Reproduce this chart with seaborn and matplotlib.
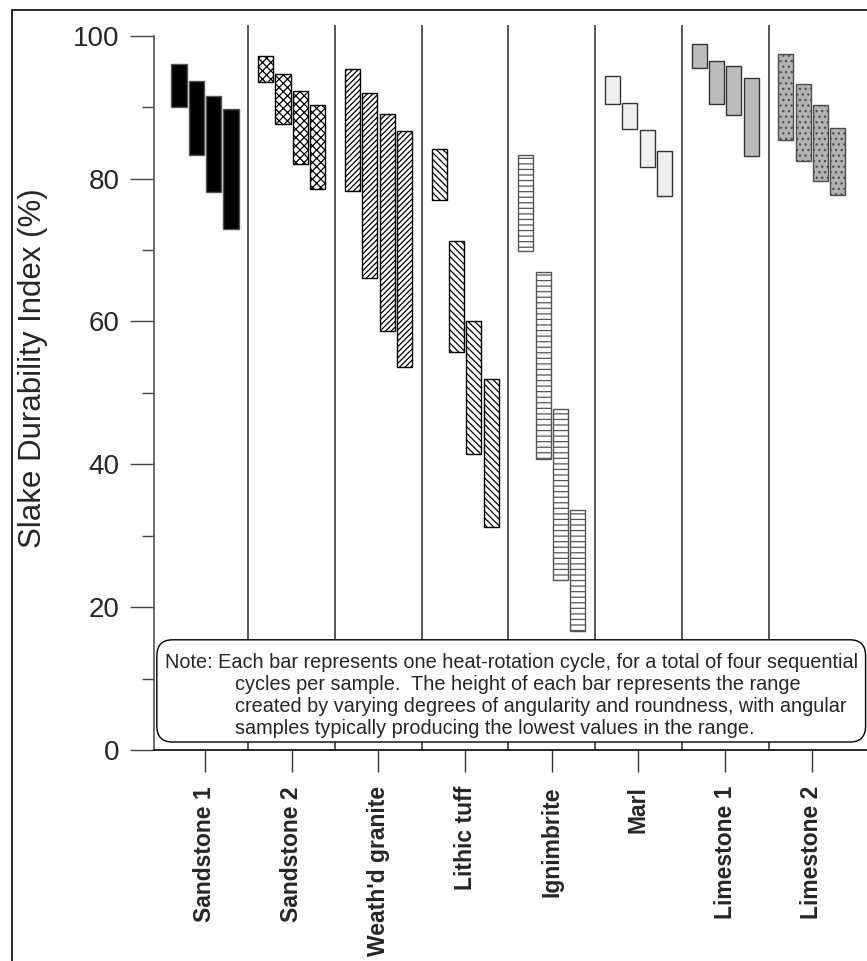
import pandas as pd
import matplotlib
matplotlib.use("Agg")
import matplotlib.pyplot as plt
import seaborn as sns
from matplotlib.patches import FancyBboxPatch, Rectangle
from matplotlib.ticker import MultipleLocator

# ---- data ----
rocks = ["Sandstone 1", "Sandstone 2", "Weath'd granite", "Lithic tuff",
         "Ignimbrite", "Marl", "Limestone 1", "Limestone 2"]
cycles = ["Cycle 1", "Cycle 2", "Cycle 3", "Cycle 4"]

cycle1_top = [96.1, 97.1, 95.4, 84.2, 83.3, 94.4, 98.9, 97.4]
cycle1_low = [90.0, 93.5, 78.2, 77.0, 69.8, 90.4, 95.5, 85.4]
cycle2_top = [93.7, 94.7, 92.0, 71.2, 66.9, 90.6, 96.4, 93.2]
cycle2_low = [83.3, 87.7, 66.1, 55.7, 40.8, 87.0, 90.5, 82.4]
cycle3_top = [91.6, 92.2, 89.0, 60.1, 47.8, 86.8, 95.8, 90.3]
cycle3_low = [78.1, 82.1, 58.6, 41.4, 23.8, 81.6, 88.9, 79.7]
cycle4_top = [89.8, 90.3, 86.7, 52.0, 33.6, 83.8, 94.1, 87.1]
cycle4_low = [73.0, 78.5, 53.6, 31.2, 16.7, 77.5, 83.1, 77.7]

tops = [cycle1_top, cycle2_top, cycle3_top, cycle4_top]
lows = [cycle1_low, cycle2_low, cycle3_low, cycle4_low]

note_lines = [
    "Note: Each bar represents one heat-rotation cycle, for a total of four sequential",
    "cycles per sample.  The height of each bar represents the range",
    "created by varying degrees of angularity and roundness, with angular",
    "samples typically producing the lowest values in the range.",
]

# long-form table for seaborn
rows = []
for c, top, low in zip(cycles, tops, lows):
    for r, t, l in zip(rocks, top, low):
        rows.append({"rock": r, "cycle": c, "range": t - l, "low": l})
df = pd.DataFrame(rows)

# fill style per rock type
styles = {
    "Sandstone 1": dict(fc="black", hatch="", ec="#555555"),
    "Sandstone 2": dict(fc="white", hatch="xxxx", ec="black"),
    "Weath'd granite": dict(fc="white", hatch="//////", ec="black"),
    "Lithic tuff": dict(fc="white", hatch="\\\\\\\\\\", ec="black"),
    "Ignimbrite": dict(fc="white", hatch="---", ec="#555555"),
    "Marl": dict(fc="#efefef", hatch="", ec="#333333"),
    "Limestone 1": dict(fc="#bcbcbc", hatch="", ec="#333333"),
    "Limestone 2": dict(fc="#b2b2b2", hatch="...", ec="#4d4d4d"),
}

sns.set_style("white")
plt.rcParams["font.family"] = ["Liberation Sans", "DejaVu Sans"]
plt.rcParams["hatch.linewidth"] = 0.9

fig = plt.figure(figsize=(8.67, 9.61), dpi=100)
ax = fig.add_axes([154 / 867, 211 / 961, 713 / 867, 725 / 961])

sns.barplot(data=df, x="rock", y="range", hue="cycle", order=rocks,
            hue_order=cycles, dodge=True, gap=0.13, errorbar=None,
            palette=["black"] * 4, legend=False, ax=ax, zorder=3)

# float each bar up to its low value, then apply the rock's fill
for h, cont in enumerate(ax.containers):
    for i, bar in enumerate(cont):
        bar.set_y(lows[h][i])
        st = styles[rocks[i]]
        bar.set_facecolor(st["fc"])
        bar.set_edgecolor(st["ec"])
        bar.set_hatch(st["hatch"])
        bar.set_linewidth(1.0)

# separators between rock types
for i in range(len(rocks) - 1):
    ax.axvline(i + 0.5, color="#3a3a3a", lw=1.2, zorder=1)

ax.set_xlim(-0.588, 7.636)
ax.set_ylim(0, 101.5)

ax.set_yticks(range(0, 101, 20))
ax.yaxis.set_minor_locator(MultipleLocator(10))
ax.tick_params(axis="y", which="major", direction="out", length=17, width=1,
               color="#444444", labelsize=20, pad=8, left=True)
ax.tick_params(axis="y", which="minor", direction="out", length=8.5, width=1,
               color="#444444", left=True)
ax.set_xticks(range(len(rocks)))
ax.set_xticklabels(rocks, rotation=90, fontweight="bold", fontsize=16.5, va="top")
ax.tick_params(axis="x", which="major", direction="out", length=16, width=1,
               color="#333333", pad=10, bottom=True)

ax.set_xlabel("")
ax.set_ylabel("Slake Durability Index (%)", fontsize=22.5)
ax.yaxis.set_label_coords(-0.148, 0.527)

for side in ["top", "right"]:
    ax.spines[side].set_visible(False)
ax.spines["left"].set_bounds(0, 100)
ax.spines["left"].set_color("#555555")
ax.spines["bottom"].set_color("black")
ax.spines["left"].set_linewidth(1.2)
ax.spines["bottom"].set_linewidth(1.2)

# note box
box = FancyBboxPatch((0.004, 0.011), 0.994, 0.141,
                     boxstyle="round,pad=0,rounding_size=0.022",
                     transform=ax.transAxes, fc="white", ec="black", lw=1.0,
                     zorder=6, clip_on=False)
ax.add_patch(box)
ax.text(0.0154, 0.120, note_lines[0], transform=ax.transAxes, fontsize=14.3,
        va="center", ha="left", zorder=7)
for k, line in enumerate(note_lines[1:]):
    ax.text(0.1136, 0.0897 - k * 0.0297, line, transform=ax.transAxes,
            fontsize=14.3, va="center", ha="left", zorder=7)

# outer frame
fig.add_artist(Rectangle((12 / 867, -0.1), 1.2, (961 - 10) / 961 + 0.1,
                         transform=fig.transFigure, fill=False, lw=1.2,
                         ec="black"))

fig.savefig("out.png", dpi=100)
